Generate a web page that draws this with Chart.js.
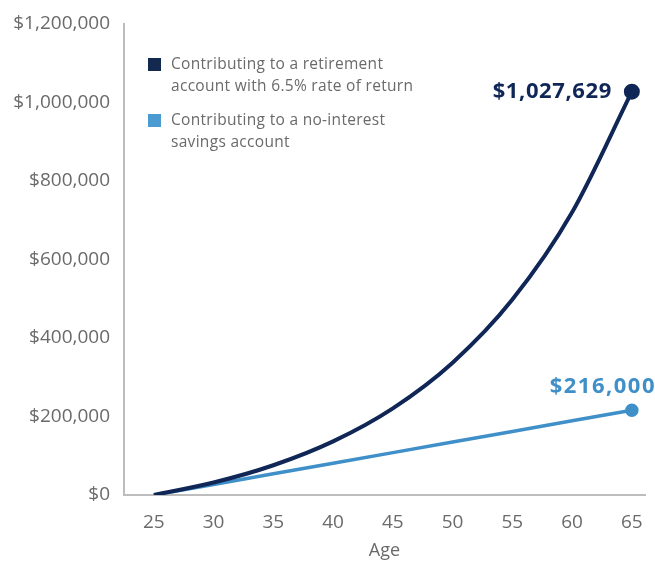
<!DOCTYPE html>
<html>
<head>
<meta charset="utf-8">
<script src="https://cdn.jsdelivr.net/npm/chart.js@4"></script>
<style>
  html, body { margin: 0; padding: 0; background: #fff; }
  #wrap { position: relative; width: 655px; height: 562px; }
  #legend { position: absolute; left: 148px; top: 52px; font-family: "Open Sans", sans-serif; font-size: 15.5px; letter-spacing: 0.3px; color: #6a6a6a; line-height: 22px; }
  .item { position: relative; padding-left: 23px; margin-bottom: 12px; }
  .sw { position: absolute; left: 0; top: 6px; width: 13px; height: 13px; }
</style>
</head>
<body>
<div id="wrap">
  <canvas id="chart" width="655" height="562"></canvas>
  <div id="legend"></div>
</div>
<script>
// Ages and balances
const ages = [25, 30, 35, 40, 45, 50, 55, 60, 65];
const ageTicks = [25, 30, 35, 40, 45, 50, 55, 60, 65];
const retirement = [0, 31800, 75800, 136600, 220700, 337000, 497800, 720200, 1027629];
const savings = [0, 27000, 54000, 81000, 108000, 135000, 162000, 189000, 216000];
const seriesNames = [
    ['Contributing to a retirement', 'account with 6.5% rate of return'],
    ['Contributing to a no-interest', 'savings account']
];
const endLabels = ['$1,027,629', '$216,000'];
const navy = '#0f2656';
const lightBlue = '#3f8fc8';

function toPoints(values) {
    return ages.map((a, i) => ({ x: a, y: values[i] }));
}

function lastOnly(r) {
    return ages.map((a, i) => i === ages.length - 1 ? r : 0);
}

// legend built as html
document.getElementById('legend').innerHTML = seriesNames.map((lines, i) => `
    <div class="item"><span class="sw" style="background:${i === 0 ? '#13294f' : '#4b9bd2'}"></span>${lines.join('<br>')}</div>
`).join('');

const endLabelPlugin = {
    id: 'endLabels',
    afterDatasetsDraw(chart) {
        const ctx = chart.ctx;
        ctx.save();
        ctx.textBaseline = 'middle';
        ctx.textAlign = 'right';
        // navy label left of the point
        const p0 = chart.getDatasetMeta(0).data[ages.length - 1];
        ctx.font = 'bold 22px "Open Sans", sans-serif';
        ctx.letterSpacing = '0.6px';
        ctx.fillStyle = navy;
        ctx.fillText(endLabels[0], p0.x - 20, p0.y);
        // light blue label above the point
        const p1 = chart.getDatasetMeta(1).data[ages.length - 1];
        ctx.fillStyle = lightBlue;
        ctx.letterSpacing = '1.5px';
        ctx.fillText(endLabels[1], 656, p1.y - 23);
        ctx.restore();
    }
};

new Chart(document.getElementById('chart'), {
    type: 'line',
    data: {
        datasets: [{
            label: seriesNames[0].join(' '),
            data: toPoints(retirement),
            borderColor: navy,
            backgroundColor: navy,
            borderWidth: 4,
            pointRadius: lastOnly(6),
            cubicInterpolationMode: 'monotone'
        }, {
            label: seriesNames[1].join(' '),
            data: toPoints(savings),
            borderColor: lightBlue,
            backgroundColor: lightBlue,
            borderWidth: 3.5,
            pointRadius: lastOnly(5),
            tension: 0
        }]
    },
    options: {
        responsive: false,
        animation: false,
        layout: { padding: { top: 24, right: 0, left: 0, bottom: 0 } },
        plugins: { legend: { display: false }, tooltip: { enabled: false } },
        scales: {
            x: {
                type: 'linear',
                min: 22.5,
                max: 66.1,
                afterBuildTicks: axis => { axis.ticks = ageTicks.map(v => ({ value: v })); },
                afterFit: axis => { axis.height = 67; },
                grid: { display: false },
                border: { display: true, color: '#bdbdbd', width: 2 },
                ticks: { color: '#6a6a6a', font: { family: 'Open Sans', size: 19 }, padding: 8, maxRotation: 0 },
                title: { display: true, text: 'Age', color: '#6a6a6a', font: { family: 'Open Sans', size: 18 }, padding: { top: 1, bottom: 0 } }
            },
            y: {
                min: 0,
                max: 1200000,
                afterFit: axis => { axis.width = 124; },
                grid: { display: false },
                border: { display: true, color: '#bdbdbd', width: 2 },
                ticks: {
                    stepSize: 200000,
                    color: '#6a6a6a',
                    font: { family: 'Open Sans', size: 19 },
                    padding: 6,
                    callback: v => '$' + v.toLocaleString('en-US')
                }
            }
        }
    },
    plugins: [endLabelPlugin]
});
</script>
</body>
</html>
